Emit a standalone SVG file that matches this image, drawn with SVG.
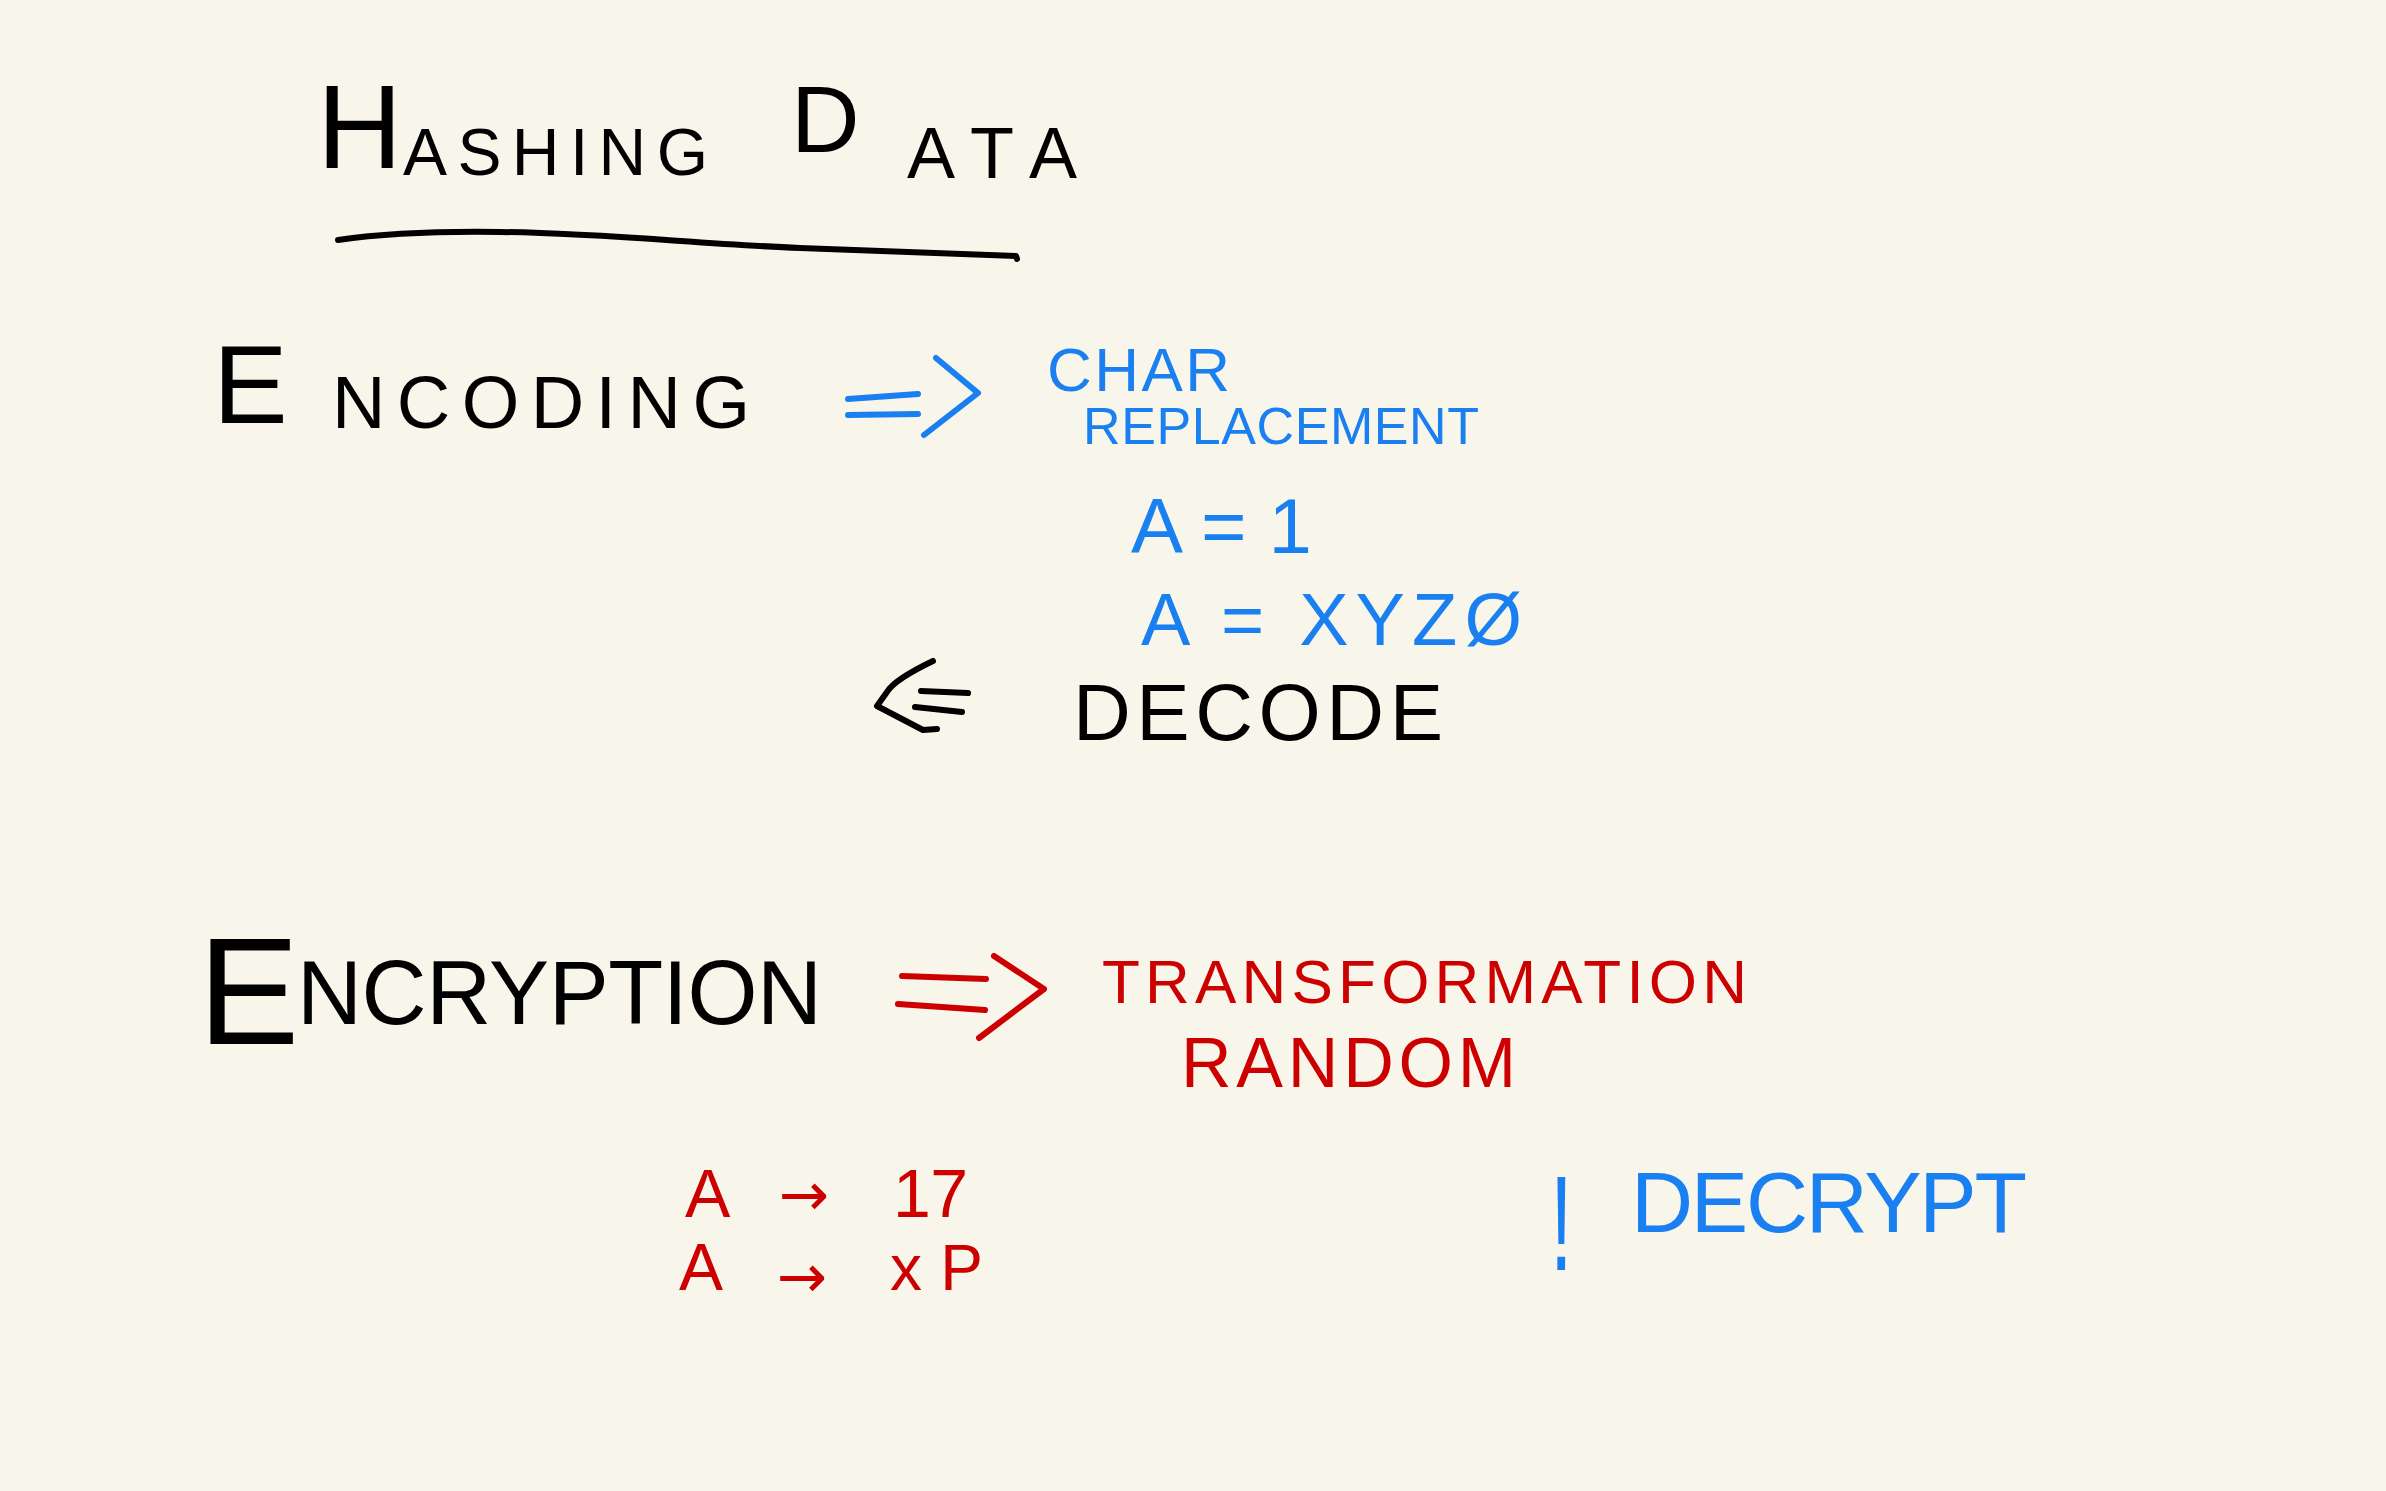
<svg xmlns="http://www.w3.org/2000/svg" width="2386" height="1491" viewBox="0 0 2386 1491">
<style>
text{font-family:"Liberation Sans","DejaVu Sans",sans-serif;}
.arr{font-family:"DejaVu Sans",sans-serif;font-size:60px;}
.k{fill:#000000;}
.b{fill:#1a7ff0;}
.r{fill:#cc0000;}
.sk{fill:none;stroke:#000000;stroke-width:6;stroke-linecap:round;stroke-linejoin:round;}
.sb{fill:none;stroke:#1a7ff0;stroke-width:6;stroke-linecap:round;stroke-linejoin:round;}
.sr{fill:none;stroke:#cc0000;stroke-width:6;stroke-linecap:round;stroke-linejoin:round;}
</style>
<rect x="0" y="0" width="2386" height="1491" fill="#f8f6ea"/>

<g id="title">
  <text class="k" x="317" y="168" font-size="118">H</text>
  <text class="k" x="403" y="175" font-size="66" textLength="305" lengthAdjust="spacing">ASHING</text>
  <text class="k" x="791" y="152" font-size="95">D</text>
  <text class="k" x="907" y="178" font-size="72" textLength="170" lengthAdjust="spacing">ATA</text>
  <path class="sk" d="M338,240 C380,234 430,231 500,232 C600,233 700,244 800,248 C900,252 970,254 1016,256 L1017,259"/>
</g>

<g id="encoding">
  <text class="k" x="213" y="423" font-size="112">E</text>
  <text class="k" x="332" y="428" font-size="74" textLength="418" lengthAdjust="spacing">NCODING</text>
</g>

<g id="char-replacement">
  <text class="b" x="1047" y="391" font-size="62" textLength="183" lengthAdjust="spacing">CHAR</text>
  <text class="b" x="1083" y="444" font-size="52" textLength="396" lengthAdjust="spacing">REPLACEMENT</text>
</g>

<g id="a-eq-1">
  <text class="b" x="1131" y="553" font-size="78" textLength="181" lengthAdjust="spacing">A = 1</text>
</g>

<g id="a-eq-xyz0">
  <text class="b" x="1141" y="645" font-size="74" textLength="381" lengthAdjust="spacing">A = XYZØ</text>
</g>

<g id="decode">
  <text class="k" x="1073" y="740" font-size="80" textLength="370" lengthAdjust="spacing">DECODE</text>
</g>

<g id="encryption">
  <text class="k" x="198" y="1044" font-size="152">E</text>
  <text class="k" x="297" y="1024" font-size="90" textLength="525" lengthAdjust="spacing">NCRYPTION</text>
</g>

<g id="transformation">
  <text class="r" x="1102" y="1003" font-size="62" textLength="645" lengthAdjust="spacing">TRANSFORMATION</text>
  <text class="r" x="1181" y="1087" font-size="70" textLength="335" lengthAdjust="spacing">RANDOM</text>
</g>

<g id="example-1">
  <text class="r" x="685" y="1217" font-size="68">A</text>
  <text class="r arr" x="779" y="1215">→</text>
  <text class="r" x="893" y="1217" font-size="68" textLength="75" lengthAdjust="spacing">17</text>
</g>

<g id="example-2">
  <text class="r" x="679" y="1290" font-size="66">A</text>
  <text class="r arr" x="777" y="1297">→</text>
  <text class="r" x="890" y="1290" font-size="64" textLength="93" lengthAdjust="spacing">xP</text>
</g>

<g id="decrypt">
  <text class="b" font-size="136" transform="translate(1550,1270) scale(0.6,1)">!</text>
  <text class="b" x="1631" y="1232" font-size="86" textLength="396" lengthAdjust="spacing">DECRYPT</text>
</g>

<g id="connectors">
  <path class="sb" d="M848,399 L918,394 M848,415 L918,414 M936,358 L978,393 L924,435"/>
  <path class="sk" d="M933,661 C910,672 893,682 887,692 L877,706 L923,730 L937,729 M921,691 L968,693 M915,707 L962,712"/>
  <path class="sr" d="M902,976 L986,979 M898,1004 L985,1010 M994,956 L1044,989 L979,1038"/>
</g>
</svg>
